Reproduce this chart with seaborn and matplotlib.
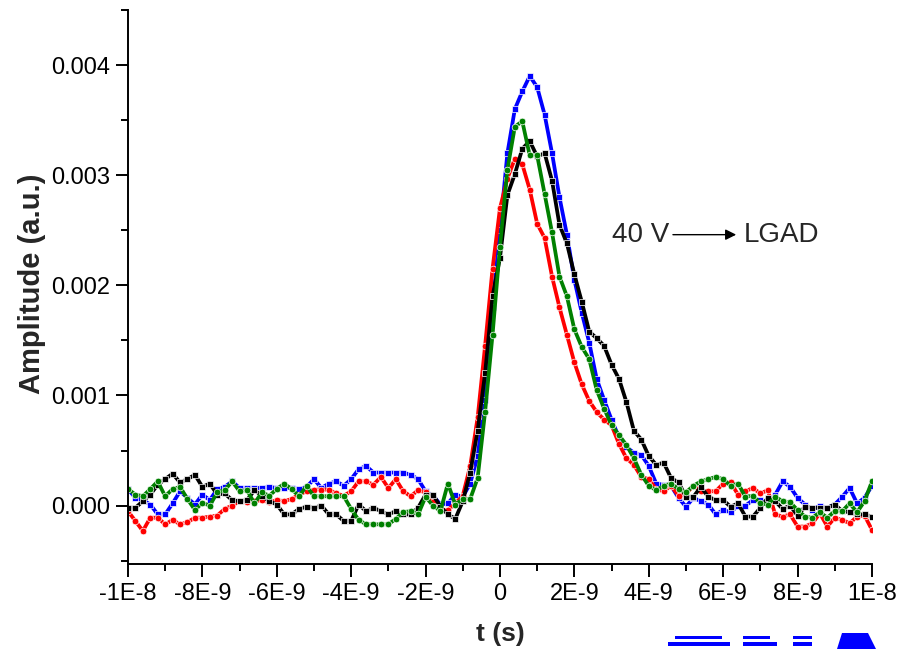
import numpy as np
import matplotlib
matplotlib.use("Agg")
import matplotlib.pyplot as plt
import seaborn as sns
from matplotlib.ticker import FixedLocator, MultipleLocator
from matplotlib.patches import Polygon

# ---------------- data ----------------
# time base: oscilloscope samples every 0.2 ns from -10 ns to 10 ns
t_ns = np.linspace(-10, 10, 101)
amp_unit = 1e-4  # amplitudes below are in units of 1e-4 (a.u.)

blue_amp = [1.5, 0.7, 0.5, 0.1, -0.8, -0.8, 0.2, 1.3, 0.7, 0.1, 1.0, 0.5, 1.5, 1.7, 2.2, 1.6, 1.6, 1.6, 1.6, 1.7, 1.6, 1.6, 1.6, 1.5, 1.7,
            2.4, 1.6, 2.0, 2.2, 1.8, 2.4, 3.3, 3.6, 3.0, 3.0, 3.0, 3.0, 3.0, 2.8, 2.4, 1.3, 0.9, 0.1, 0.2, 1.0, 0.8,
            2.0, 4.5, 9.6, 18.0, 25.0,
            32.0, 36.0, 37.6, 39.0, 38.0, 35.5, 32.0, 28.0, 24.6, 20.5,
            17.5, 14.8, 11.5, 9.6, 7.8, 6.2, 5.3, 4.8, 4.6, 3.6,
            2.0, 1.9, 1.8, 0.7, -0.1, 0.7, 0.4, 0.1, -0.8, -0.4, -0.6, 0.0, 0.0, 0.5, 0.5, 0.2, 1.0, 2.2, 1.7, 0.7,
            0.1, -0.4, 0.0, -0.2, 0.1, 0.8, 1.6, 0.2, 0.7, 1.8]

red_amp = [-0.5, -1.4, -2.3, -1.1, -1.1, -1.7, -1.3, -1.7, -1.5, -1.1, -1.1, -1.0, -0.9, -0.3, 0.0, 0.4, 0.3, 0.4, 0.5, 0.3, 0.5, 0.4, 0.6, 1.0, 1.3,
           1.45, 1.45, 1.45, 1.1, 0.9, 1.3, 2.2, 2.2, 1.9, 2.6, 1.6, 2.4, 1.3, 0.85, 1.4, 1.2, 0.3, -0.4, -0.4, 0.2, 0.9,
           3.6, 8.0, 14.5, 21.5, 27.0,
           29.7, 31.5, 31.0, 28.7, 25.6, 24.3, 20.8, 18.0, 15.5, 13.0,
           11.0, 9.5, 8.5, 7.8, 7.3, 5.6, 4.3, 3.7, 2.6, 2.4,
           1.5, 1.3, 1.8, 0.9, 1.1, 1.8, 1.3, 1.3, 1.3, 2.0, 2.1, 1.0, 1.3, 1.6, 1.1, 1.4, -0.8, -1.0, -0.8, -1.9,
           -1.9, -1.6, -0.7, -1.9, -1.1, -1.3, -1.6, -1.0, -0.9, -2.2]

black_amp = [-0.2, -0.2, 0.4, 1.0, 1.9, 2.4, 2.9, 2.1, 2.4, 2.8, 1.7, 2.0, 1.0, 1.1, 0.5, 0.4, 0.5, 1.4, 0.9, 0.4, 0.1, -0.8, -0.8, -0.3, -0.1,
             -0.2, 0.0, -0.8, -0.8, -1.4, -1.4, 0.1, -0.5, -0.2, -0.5, -0.8, -0.5, -0.8, -0.8, -0.2, 1.0, 1.0, -0.1, -0.8, -1.2, 0.4,
             3.0, 6.8, 12.0, 19.0, 22.5,
             28.2, 30.1, 32.4, 33.1, 31.7, 32.0, 29.5, 25.5, 23.8, 21.0,
             18.5, 15.8, 15.2, 14.5, 12.8, 11.5, 9.4, 6.8, 6.0, 4.5,
             3.7, 3.9, 2.5, 2.1, 0.8, 0.8, 1.7, 0.8, 0.5, 0.5, -0.1, 0.2, -1.0, -1.0, -0.2, 0.7, 0.4, -0.3, 0.0, -0.9,
             -0.1, -0.2, -0.2, -0.2, 0.1, -0.5, -0.6, -0.8, -0.8, -1.0]

green_amp = [1.5, 1.0, 0.85, 1.5, 2.2, 0.85, 1.5, 1.7, 0.6, -0.4, 0.25, 0.0, 1.2, 1.4, 2.2, 1.3, 1.4, 0.2, 1.2, 0.9, 1.5, 2.0, 1.5, 0.85, 1.8,
             0.85, 0.85, 0.85, 0.85, 0.85, -0.3, -1.3, -1.7, -1.7, -1.7, -1.7, -1.2, -0.6, -0.5, -0.8, 0.8, 0.0, -0.5, 2.0, 0.1, 0.6,
             0.6, 2.5, 8.5, 15.5, 23.5,
             30.5, 34.4, 34.9, 31.8, 31.8, 28.3, 24.8, 20.8, 19.0, 16.0,
             14.4, 13.3, 10.5, 8.8, 7.3, 6.4, 5.5, 4.3, 2.8, 1.8,
             1.4, 1.8, 2.0, 1.5, 1.2, 1.8, 2.2, 2.4, 2.6, 2.4, 1.8, 2.0, 0.8, 0.9, 0.2, 0.1, 0.8, 0.4, 0.3, -0.4,
             -1.0, -1.1, -0.6, -1.1, -0.5, -0.5, 0.2, -0.6, 0.4, 2.2]

series_colors = ["#0000FF", "#FF0000", "#000000", "#008000"]
series_markers = ["s", "o", "s", "o"]

xtick_values = [-1e-8, -8e-9, -6e-9, -4e-9, -2e-9, 0, 2e-9, 4e-9, 6e-9, 8e-9, 1e-8]
xtick_labels = ["-1E-8", "-8E-9", "-6E-9", "-4E-9", "-2E-9", "0", "2E-9", "4E-9", "6E-9", "8E-9", "1E-8"]
ytick_values = [0.0, 0.001, 0.002, 0.003, 0.004]
ytick_labels = ["0.000", "0.001", "0.002", "0.003", "0.004"]

# ---------------- plot ----------------
sns.set_style("ticks")
plt.rcParams["font.family"] = ["Liberation Sans", "DejaVu Sans"]

fig = plt.figure(figsize=(8.98, 6.49), dpi=100)
ax = fig.add_axes([0.1425, 0.131, 0.8285, 0.8536])

t_s = t_ns * 1e-9
for amp, color, marker in zip([blue_amp, red_amp, black_amp, green_amp], series_colors, series_markers):
    sns.lineplot(x=t_s, y=np.array(amp) * amp_unit, ax=ax, color=color, marker=marker,
                 markersize=4.8, markeredgecolor="white", markeredgewidth=0.5,
                 linewidth=2.7, sort=False, errorbar=None, legend=False)

ax.set_xlim(-1e-8, 1e-8)
ax.set_ylim(-0.00053, 0.0045)

ax.xaxis.set_major_locator(FixedLocator(xtick_values))
ax.set_xticklabels(xtick_labels)
ax.xaxis.set_minor_locator(MultipleLocator(1e-9))
ax.yaxis.set_major_locator(FixedLocator(ytick_values))
ax.set_yticklabels(ytick_labels)
ax.yaxis.set_minor_locator(MultipleLocator(0.0005))

ax.tick_params(which="major", direction="out", length=9, width=1.4, labelsize=17, color="black", labelcolor="black")
ax.tick_params(which="minor", direction="out", length=5, width=1.4, color="black")
ax.tick_params(axis="x", which="major", pad=5)
ax.tick_params(axis="y", which="major", pad=4)

for side in ["top", "right"]:
    ax.spines[side].set_visible(False)
for side in ["left", "bottom"]:
    ax.spines[side].set_linewidth(1.4)
    ax.spines[side].set_color("black")

ax.set_xlabel("t (s)", fontsize=19, fontweight="bold")
ax.xaxis.set_label_coords(0.5, -0.105)
ax.set_ylabel("Amplitude (a.u.)", fontsize=21, fontweight="bold")
ax.yaxis.set_label_coords(-0.11, 0.505)

# annotation "40 V --> LGAD"
ax.text(3.0e-9, 0.00246, "40 V", fontsize=20, ha="left", va="center")
ax.annotate("", xy=(6.35e-9, 0.00246), xytext=(4.65e-9, 0.00246),
            arrowprops=dict(arrowstyle="-|>", color="black", lw=1.0, mutation_scale=16,
                            shrinkA=0, shrinkB=0))
ax.text(6.55e-9, 0.00246, "LGAD", fontsize=20, ha="left", va="center")

# clipped blue artefacts at the bottom-right corner of the original image
W, H = 898.0, 649.0
def fig_poly(pts):
    fig.patches.append(Polygon([(x / W, 1 - y / H) for x, y in pts], closed=True,
                               transform=fig.transFigure, facecolor="#0000FF", edgecolor="none"))
fig_poly([(675, 636), (722, 636), (722, 639), (675, 639)])
fig_poly([(668, 642), (730, 642), (730, 646), (668, 646)])
fig_poly([(743, 636), (770, 636), (770, 639), (743, 639)])
fig_poly([(743, 642), (777, 642), (777, 646), (743, 646)])
fig_poly([(793, 636), (812, 636), (812, 639), (793, 639)])
fig_poly([(793, 642), (812, 642), (812, 646), (793, 646)])
fig_poly([(842, 633), (868, 633), (876, 649), (837, 649)])

fig.savefig("out.png", dpi=100)
